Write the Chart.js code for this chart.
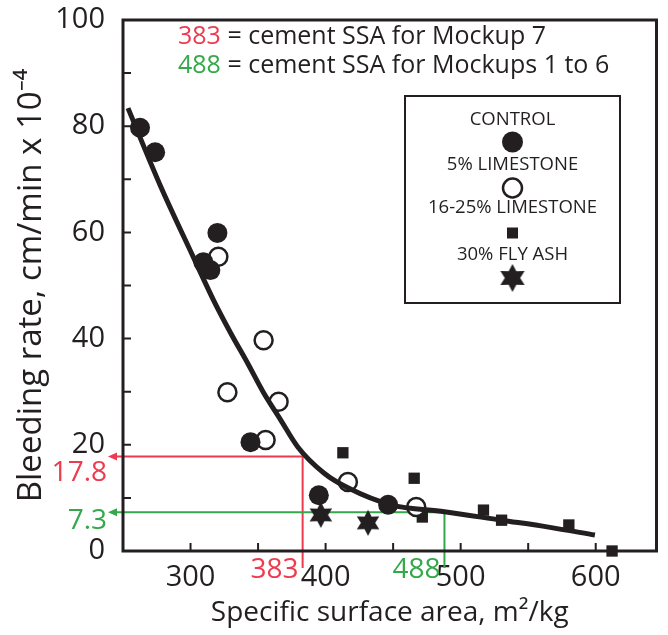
<!DOCTYPE html>
<html>
<head>
<meta charset="utf-8">
<script src="https://cdn.jsdelivr.net/npm/chart.js@4.4.0/dist/chart.umd.min.js"></script>
<style>
  html, body { margin: 0; padding: 0; background: #fff; }
  #wrap { width: 668px; height: 635px; }
</style>
</head>
<body>
<div id="wrap"><canvas id="bleedChart"></canvas></div>
<script>
// values (SSA in m2/kg, bleeding rate in cm/min x 1e-4)
const controlX = [262.6, 273.8, 319.9, 309.5, 314.7, 344.4, 395.0, 446.3];
const controlY = [79.7, 75.1, 59.9, 54.4, 52.9, 20.5, 10.5, 8.7];
const lime5X = [320.6, 354.1, 327.3, 365.2, 355.6, 416.5, 467.1];
const lime5Y = [55.4, 39.7, 29.9, 28.1, 20.9, 13.0, 8.3];
const lime1625X = [412.8, 465.6, 471.6, 516.9, 530.3, 580.1, 612.1];
const lime1625Y = [18.5, 13.7, 6.4, 7.7, 5.8, 4.9, 0];
const flyAshX = [396.5, 431.4];
const flyAshY = [6.8, 5.3];
const fitX = [253.7, 277.5, 302, 316.9, 329.6, 342.2, 354.1, 366.7, 379.4, 398.7, 416.5, 448.5, 488, 530.3, 565, 599.4];
const fitY = [83.4, 68.9, 55.4, 47.3, 41.1, 35.4, 29.8, 24.7, 19.6, 14.7, 11.9, 8.7, 7.4, 5.8, 4.5, 3.0];

const guideX = [383, 488];
const guideY = [17.8, 7.3];
const guideColors = ['#ee3a4f', '#34a84a'];
const guideNotes = ['= cement SSA for Mockup 7', '= cement SSA for Mockups 1 to 6'];

const legendLabels = ['CONTROL', '5% LIMESTONE', '16-25% LIMESTONE', '30% FLY ASH'];

const INK = '#231f20';
const FONT = '"Open Sans", "Noto Sans", sans-serif';

function pts(xs, ys) {
    return xs.map((x, i) => ({ x: x, y: ys[i] }));
}

function makeStar(r) {
    const c = document.createElement('canvas');
    const s = Math.ceil(r * 2 + 2);
    c.width = s;
    c.height = s;
    const g = c.getContext('2d');
    g.fillStyle = INK;
    g.beginPath();
    for (let i = 0; i < 12; i++) {
        const a = -Math.PI / 2 + i * Math.PI / 6;
        const rr = i % 2 === 0 ? r : r * 0.55;
        g.lineTo(s / 2 + rr * Math.cos(a), s / 2 + rr * Math.sin(a));
    }
    g.closePath();
    g.fill();
    return c;
}

const starSmall = makeStar(13);
const starBig = makeStar(14);

// frame, inward ticks and the red/green guide lines
const framePlugin = {
    id: 'framePlugin',
    beforeDatasetsDraw(chart) {
        const { ctx, chartArea: a, scales: { x, y } } = chart;
        ctx.save();

        // guides
        guideX.forEach((gx, i) => {
            const px = x.getPixelForValue(gx);
            const py = y.getPixelForValue(guideY[i]);
            ctx.strokeStyle = guideColors[i];
            ctx.fillStyle = guideColors[i];
            ctx.lineWidth = 2;
            ctx.beginPath();
            ctx.moveTo(px, a.bottom + 17);
            ctx.lineTo(px, py);
            ctx.lineTo(a.left - 10, py);
            ctx.stroke();
            ctx.beginPath();
            ctx.moveTo(a.left - 15, py);
            ctx.lineTo(a.left - 6, py - 4);
            ctx.lineTo(a.left - 6, py + 4);
            ctx.closePath();
            ctx.fill();
        });

        // box
        ctx.strokeStyle = INK;
        ctx.lineWidth = 3;
        ctx.strokeRect(a.left, a.top, a.right - a.left, a.bottom - a.top);

        // ticks pointing into the plot
        ctx.lineWidth = 2;
        ctx.beginPath();
        x.ticks.forEach(t => {
            if (t.value <= x.min || t.value >= x.max) return;
            const px = x.getPixelForValue(t.value);
            ctx.moveTo(px, a.bottom);
            ctx.lineTo(px, a.bottom - 8);
        });
        y.ticks.forEach(t => {
            if (t.value <= y.min || t.value >= y.max) return;
            const py = y.getPixelForValue(t.value);
            ctx.moveTo(a.left, py);
            ctx.lineTo(a.left + 8, py);
        });
        ctx.stroke();
        ctx.restore();
    },
    afterDraw(chart) {
        const { ctx, chartArea: a, scales: { x, y } } = chart;
        ctx.save();
        ctx.textBaseline = 'middle';

        // guide value labels
        ctx.font = '28px ' + FONT;
        guideX.forEach((gx, i) => {
            const px = x.getPixelForValue(gx);
            const py = y.getPixelForValue(guideY[i]);
            ctx.fillStyle = guideColors[i];
            ctx.textAlign = 'right';
            ctx.fillText(String(guideY[i]), a.left - 16, py + (i === 0 ? 17 : 9));
            ctx.fillText(String(gx), px - 4, a.bottom + 19);
        });

        // notes at the top
        ctx.font = '25px ' + FONT;
        ctx.textAlign = 'left';
        guideX.forEach((gx, i) => {
            const tx = 178;
            const ty = 37 + i * 29;
            ctx.fillStyle = guideColors[i];
            ctx.fillText(String(gx), tx, ty);
            const w = ctx.measureText(String(gx) + ' ').width;
            ctx.fillStyle = INK;
            ctx.fillText(guideNotes[i], tx + w, ty);
        });

        // legend box
        const bx = 405, by = 96, bw = 215, bh = 207;
        ctx.fillStyle = '#fff';
        ctx.fillRect(bx, by, bw, bh);
        ctx.strokeStyle = INK;
        ctx.lineWidth = 2;
        ctx.strokeRect(bx, by, bw, bh);

        const cx = bx + bw / 2;
        const textY = [120, 165, 208, 255];
        const symY = [142, 188, 233, 278];
        ctx.font = '18.5px ' + FONT;
        ctx.textAlign = 'center';
        ctx.fillStyle = INK;
        legendLabels.forEach((lab, i) => {
            ctx.fillText(lab, cx, textY[i]);
        });

        ctx.beginPath();
        ctx.arc(cx, symY[0], 10.5, 0, Math.PI * 2);
        ctx.fill();
        ctx.beginPath();
        ctx.arc(cx, symY[1], 9.5, 0, Math.PI * 2);
        ctx.lineWidth = 2.5;
        ctx.stroke();
        ctx.fillRect(cx - 5.5, symY[2] - 5.5, 11, 11);
        ctx.drawImage(starBig, cx - starBig.width / 2, symY[3] - starBig.height / 2);

        ctx.restore();
    }
};

const ctx = document.getElementById('bleedChart');

new Chart(ctx, {
    type: 'scatter',
    data: {
        datasets: [
            {
                label: 'fit',
                type: 'line',
                data: pts(fitX, fitY),
                borderColor: INK,
                borderWidth: 5,
                pointRadius: 0,
                fill: false,
                cubicInterpolationMode: 'monotone'
            },
            {
                label: legendLabels[0],
                data: pts(controlX, controlY),
                pointStyle: 'circle',
                pointRadius: 10,
                backgroundColor: INK,
                borderColor: INK,
                borderWidth: 0,
                clip: false
            },
            {
                label: legendLabels[1],
                data: pts(lime5X, lime5Y),
                pointStyle: 'circle',
                pointRadius: 9,
                backgroundColor: '#fff',
                borderColor: INK,
                borderWidth: 2.5,
                clip: false
            },
            {
                label: legendLabels[2],
                data: pts(lime1625X, lime1625Y),
                pointStyle: 'rect',
                pointRadius: 8,
                backgroundColor: INK,
                borderColor: INK,
                borderWidth: 0,
                clip: false
            },
            {
                label: legendLabels[3],
                data: pts(flyAshX, flyAshY),
                pointStyle: starSmall,
                clip: false
            }
        ]
    },
    options: {
        responsive: true,
        maintainAspectRatio: false,
        animation: false,
        layout: {
            padding: { top: 20, right: 10, left: 0, bottom: 0 }
        },
        plugins: {
            legend: { display: false },
            tooltip: { enabled: false }
        },
        scales: {
            x: {
                type: 'linear',
                min: 250,
                max: 645,
                border: { display: false },
                grid: { display: false, drawTicks: false },
                ticks: {
                    stepSize: 50,
                    autoSkip: false,
                    includeBounds: false,
                    maxRotation: 0,
                    padding: 9,
                    color: INK,
                    font: { family: FONT, size: 29 },
                    callback: v => (v % 100 === 0 ? v : '')
                },
                title: {
                    display: true,
                    text: 'Specific surface area, m²/kg',
                    color: INK,
                    font: { family: FONT, size: 28 },
                    padding: { top: 0, bottom: 5 }
                },
                afterFit: function (scale) {
                    scale.height = 84;
                    scale.paddingLeft = 0;
                    scale.paddingRight = 0;
                }
            },
            y: {
                min: 0,
                max: 100,
                border: { display: false },
                grid: { display: false, drawTicks: false },
                ticks: {
                    stepSize: 10,
                    autoSkip: false,
                    padding: 18,
                    color: INK,
                    font: { family: FONT, size: 29 },
                    callback: v => (v % 20 === 0 ? v : '')
                },
                title: {
                    display: true,
                    text: 'Bleeding rate, cm/min x 10⁻⁴',
                    color: INK,
                    font: { family: FONT, size: 33 },
                    padding: { top: 12, bottom: 0 }
                },
                afterFit: function (scale) {
                    scale.width = 123;
                    scale.paddingTop = 0;
                    scale.paddingBottom = 0;
                }
            }
        }
    },
    plugins: [framePlugin]
});
</script>
</body>
</html>
